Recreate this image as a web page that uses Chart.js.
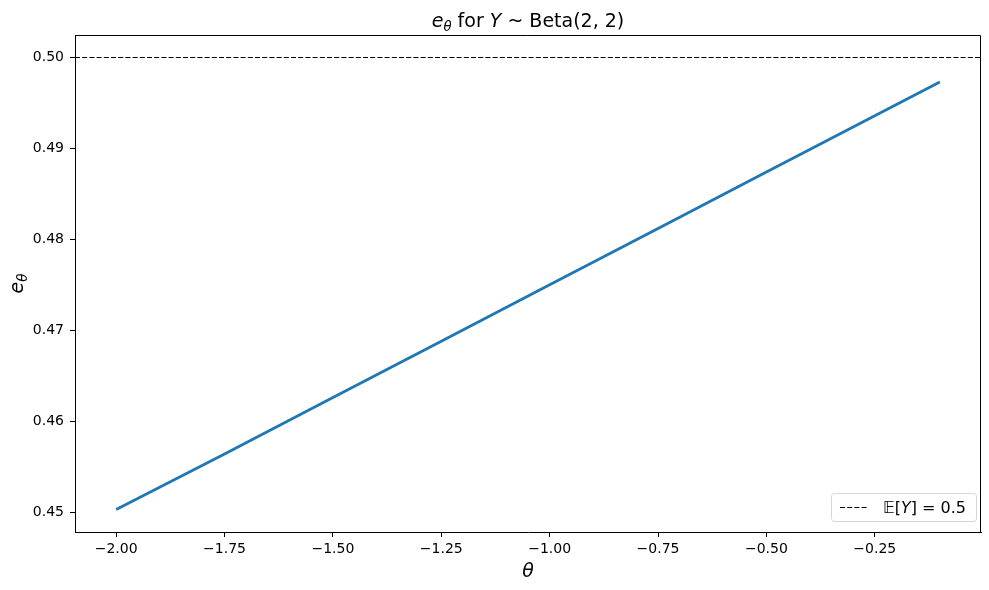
<!DOCTYPE html>
<html>
<head>
<meta charset="utf-8">
<script src="https://cdn.jsdelivr.net/npm/chart.js@4.4.1/dist/chart.umd.min.js"></script>
<style>
  html, body { margin: 0; background: #fff; }
  #wrap { width: 989px; height: 590px; }
</style>
</head>
<body>
<div id="wrap"><canvas id="chart" width="989" height="590"></canvas></div>
<script>
// ─── DATA ────────────────────────────────────────────────────────────────────
const thetas  = [-2.0, -1.75, -1.5, -1.25, -1.0, -0.75, -0.5, -0.25, -0.1];
const eTheta  = [0.4503, 0.4564, 0.4626, 0.4688, 0.4750, 0.4812, 0.4874, 0.4936, 0.4973];
const meanY   = 0.5;
const xTicks  = [-2.0, -1.75, -1.5, -1.25, -1.0, -0.75, -0.5, -0.25];
const yTicks  = [0.45, 0.46, 0.47, 0.48, 0.49, 0.50];
const xLimits = [-2.095, -0.005];
const yLimits = [0.44782, 0.50248];

const FONT = '"DejaVu Sans", sans-serif';

// draws a run of [text, style] parts: '' regular, 'i' italic, 's' italic subscript
function drawRich(ctx, parts, x, y, size, align) {
  const fontFor = p => (p[1] ? 'italic ' : '') + (p[1] === 's' ? size * 0.7 : size) + 'px ' + FONT;
  let w = 0;
  parts.forEach(p => { ctx.font = fontFor(p); w += ctx.measureText(p[0]).width; });
  let cx = align === 'center' ? x - w / 2 : x;
  ctx.textAlign = 'left';
  ctx.textBaseline = 'alphabetic';
  parts.forEach(p => {
    ctx.font = fontFor(p);
    ctx.fillText(p[0], cx, p[1] === 's' ? y + size * 0.22 : y);
    cx += ctx.measureText(p[0]).width;
  });
}

const decorations = {
  id: 'decorations',
  afterDatasetsDraw(chart) {
    const { ctx, chartArea: a } = chart;
    ctx.save();
    // top and right spines (left/bottom come from the axis borders)
    ctx.strokeStyle = '#000';
    ctx.lineWidth = 1;
    ctx.beginPath();
    ctx.moveTo(a.left, a.top + 0.5);
    ctx.lineTo(a.right - 0.5, a.top + 0.5);
    ctx.lineTo(a.right - 0.5, a.bottom);
    ctx.stroke();

    ctx.fillStyle = '#000';
    // title
    drawRich(ctx, [['e', 'i'], ['θ', 's'], [' for ', ''], ['Y', 'i'], [' ~ Beta(2, 2)', '']],
      (a.left + a.right) / 2, 27, 19, 'center');
    // x label
    drawRich(ctx, [['θ', 'i']], (a.left + a.right) / 2, 577, 19, 'center');
    // y label
    ctx.save();
    ctx.translate(23, (a.top + a.bottom) / 2);
    ctx.rotate(-Math.PI / 2);
    drawRich(ctx, [['e', 'i'], ['θ', 's']], 0, 0, 19, 'center');
    ctx.restore();

    // legend
    const lx = 831.5, ly = 493.5, lw = 145, lh = 28;
    ctx.fillStyle = 'rgba(255,255,255,0.8)';
    ctx.strokeStyle = '#d6d6d6';
    ctx.beginPath();
    ctx.roundRect(lx, ly, lw, lh, 3);
    ctx.fill();
    ctx.stroke();
    ctx.strokeStyle = '#000';
    ctx.lineWidth = 1.1;
    ctx.setLineDash([5, 2.2]);
    ctx.beginPath();
    ctx.moveTo(840, 507.5);
    ctx.lineTo(868, 507.5);
    ctx.stroke();
    ctx.setLineDash([]);
    ctx.fillStyle = '#000';
    drawRich(ctx, [['𝔼', ''], ['[', ''], ['Y', 'i'], ['] = 0.5', '']], 883, 513, 16, 'left');
    ctx.restore();
  }
};

const tickLabel = v => v.toFixed(2).replace('-', '\u2212');

new Chart(document.getElementById('chart').getContext('2d'), {
  type: 'line',
  data: {
    datasets: [
      {
        data: thetas.map((t, i) => ({ x: t, y: eTheta[i] })),
        borderColor: '#1f77b4',
        borderWidth: 2.8,
        pointRadius: 0,
        tension: 0,
        fill: false
      },
      {
        data: xLimits.map(x => ({ x, y: meanY })),
        borderColor: '#000',
        borderWidth: 1.1,
        borderDash: [5, 2.2],
        pointRadius: 0,
        fill: false
      }
    ]
  },
  options: {
    responsive: false,
    animation: false,
    layout: { padding: { top: 35, right: 8, left: 0, bottom: 0 } },
    plugins: { legend: { display: false }, title: { display: false }, tooltip: { enabled: false } },
    scales: {
      x: {
        type: 'linear',
        min: xLimits[0],
        max: xLimits[1],
        afterFit: s => { s.height = 58; },
        afterBuildTicks: s => { s.ticks = xTicks.map(v => ({ value: v })); },
        grid: { drawOnChartArea: false, drawTicks: true, tickLength: 5, color: '#000', lineWidth: 1 },
        border: { display: true, color: '#000', width: 1 },
        ticks: { color: '#000', font: { family: FONT, size: 14 }, padding: 4, maxRotation: 0, autoSkip: false, callback: tickLabel }
      },
      y: {
        type: 'linear',
        min: yLimits[0],
        max: yLimits[1],
        afterFit: s => { s.width = 75; },
        afterBuildTicks: s => { s.ticks = yTicks.map(v => ({ value: v })); },
        grid: { drawOnChartArea: false, drawTicks: true, tickLength: 5, color: '#000', lineWidth: 1 },
        border: { display: true, color: '#000', width: 1 },
        ticks: { color: '#000', font: { family: FONT, size: 14 }, padding: 6, autoSkip: false, callback: tickLabel }
      }
    }
  },
  plugins: [decorations]
});
</script>
</body>
</html>
